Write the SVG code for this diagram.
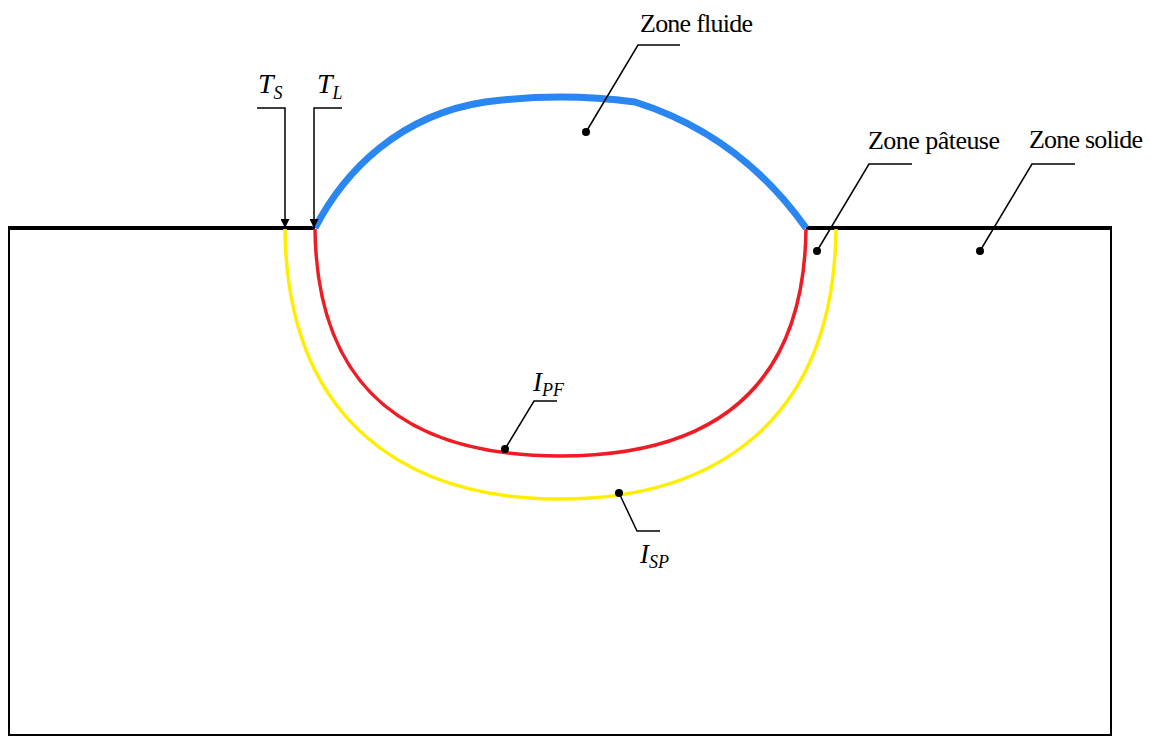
<svg xmlns="http://www.w3.org/2000/svg" width="1151" height="736" viewBox="0 0 1151 736">
<style>
.lbl{font-family:"Liberation Serif","Times New Roman",serif;font-size:26px;fill:#000}
.math{font-family:"Liberation Serif","Times New Roman",serif;font-style:italic;fill:#000}
.lead{fill:none;stroke:#000;stroke-width:1.5}
.dot{fill:#000}
</style>
<defs>
<marker id="arr" viewBox="0 0 10 10" refX="10" refY="5" markerWidth="10" markerHeight="9" markerUnits="userSpaceOnUse" orient="auto">
<path d="M0,0 L10,5 L0,10 Z" fill="#000"/>
</marker>
</defs>
<rect width="1151" height="736" fill="#fff"/>
<g id="block">
<path d="M9,228 V735 H1111 V228" fill="none" stroke="#000" stroke-width="2"/>
<path d="M8,228 H315 M806,228 H1112" fill="none" stroke="#000" stroke-width="4"/>
</g>
<g id="curves">
<path id="yellow" d="M285,229 C287,425 410,499 560,499 C711,499 834,425 836,229" fill="none" stroke="#ffee00" stroke-width="3.5"/>
<path id="red" d="M315,229 C317,400 420,456 560,456 C700,456 804,400 806,229" fill="none" stroke="#ee1c25" stroke-width="3.5"/>
<path id="blue" d="M315,228 C345,170 400,115 485,102 Q560,92 635,102 Q740,135 806,228" fill="none" stroke="#2a86f0" stroke-width="7"/>
</g>
<g id="connectors">
<path class="lead" d="M257,108 H285 V228" marker-end="url(#arr)"/>
<path class="lead" d="M342,108 H314 V228" marker-end="url(#arr)"/>
<path class="lead" d="M586,132 L638,45 H680"/>
<path class="lead" d="M817,251 L869,164 H912"/>
<path class="lead" d="M980,251 L1032,164 H1075"/>
<path class="lead" d="M505,449 L534,401 H557"/>
<path class="lead" d="M619,493 L637,531 H660"/>
</g>
<g id="TS"><text class="math" x="258" y="93" font-size="28">T<tspan font-size="18" dy="6">S</tspan></text></g>
<g id="TL"><text class="math" x="317" y="93" font-size="28">T<tspan font-size="18" dy="6">L</tspan></text></g>
<g id="zone-fluide"><circle class="dot" cx="586" cy="132" r="4"/><text class="lbl" x="640" y="32" textLength="113">Zone fluide</text></g>
<g id="zone-pateuse"><circle class="dot" cx="817" cy="251" r="4"/><text class="lbl" x="868" y="149" textLength="132">Zone pâteuse</text></g>
<g id="zone-solide"><circle class="dot" cx="980" cy="251" r="4"/><text class="lbl" x="1029" y="148" textLength="114">Zone solide</text></g>
<g id="IPF"><circle class="dot" cx="505" cy="449" r="4"/><text class="math" x="533" y="391" font-size="27">I<tspan font-size="18" dy="5">PF</tspan></text></g>
<g id="ISP"><circle class="dot" cx="619" cy="493" r="4"/><text class="math" x="640" y="563" font-size="27">I<tspan font-size="18" dy="5">SP</tspan></text></g>
</svg>
